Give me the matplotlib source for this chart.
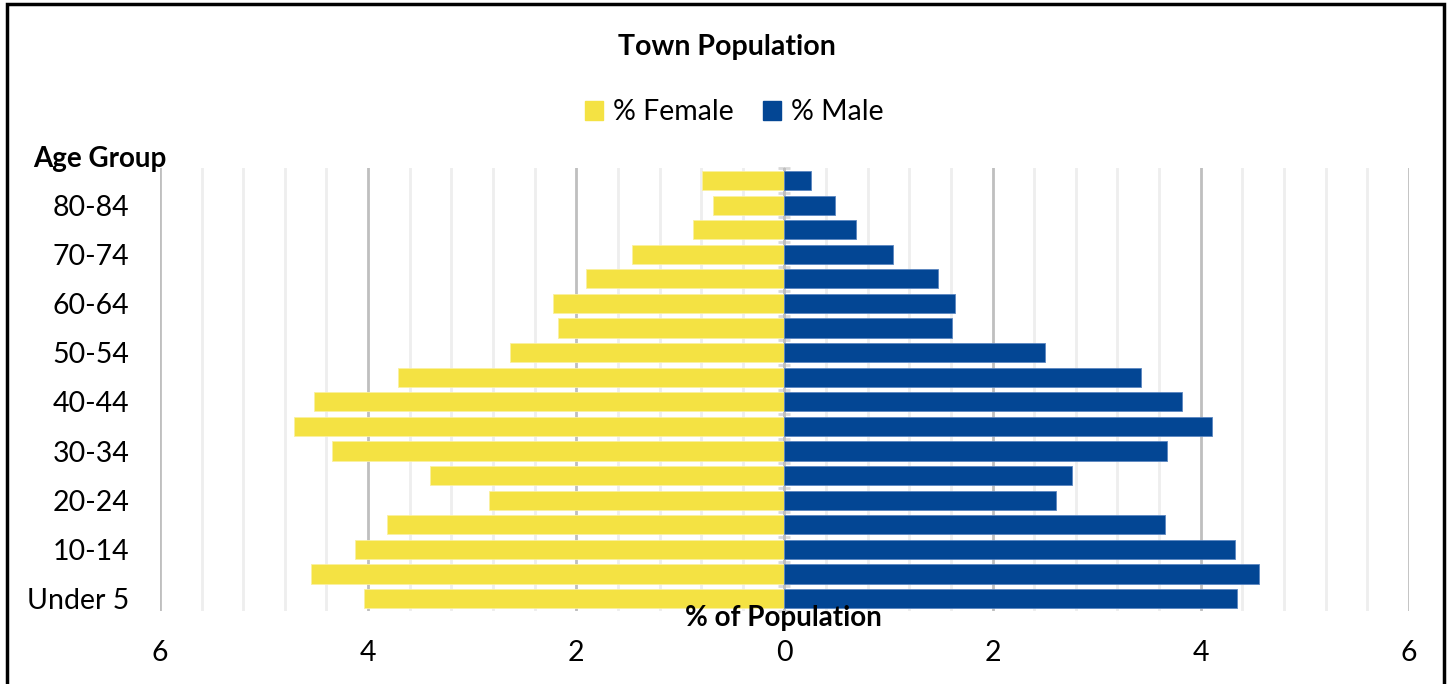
import matplotlib.pyplot as plt
from matplotlib.patches import Rectangle, Patch
import numpy as np

plt.rcParams['font.family'] = ['Lato', 'DejaVu Sans']

# age groups, bottom to top
ages = ['Under 5', '5-9', '10-14', '15-19', '20-24', '25-29', '30-34', '35-39',
        '40-44', '45-49', '50-54', '55-59', '60-64', '65-69', '70-74', '75-79',
        '80-84', '85+']
female = [4.04, 4.55, 4.13, 3.82, 2.84, 3.41, 4.35, 4.71, 4.52, 3.71, 2.64,
          2.18, 2.22, 1.91, 1.46, 0.88, 0.69, 0.79]
male = [4.35, 4.56, 4.33, 3.66, 2.61, 2.76, 3.68, 4.11, 3.82, 3.43, 2.50,
        1.61, 1.64, 1.48, 1.04, 0.69, 0.49, 0.26]

yellow = '#F4E243'
blue = '#034694'

fig = plt.figure(figsize=(14.54, 6.84), dpi=100)
ax = fig.add_axes([0.110, 0.107, 0.859, 0.647])

y = np.arange(len(ages))
ax.barh(y, [-v for v in female], height=0.78, color=yellow, edgecolor='#FAF0A0',
        linewidth=0.6, label='% Female', zorder=3)
ax.barh(y, male, height=0.78, color=blue, edgecolor='#5B86C0',
        linewidth=0.6, label='% Male', zorder=3)

ax.set_xlim(-6, 6)
ax.set_ylim(-0.5, len(ages) - 0.5)

# grid
ax.set_xticks(np.arange(-6, 6.1, 2))
ax.set_xticks(np.arange(-6, 6.01, 0.4), minor=True)
ax.grid(axis='x', which='major', color='#BFBFBF', linewidth=2, zorder=0)
ax.grid(axis='x', which='minor', color='#EEEEEE', linewidth=2, zorder=0)
ax.set_xticklabels([str(abs(int(t))) for t in np.arange(-6, 6.1, 2)])
ax.tick_params(axis='x', which='both', length=0, labelsize=20.5, pad=21)

# y labels every other group
ax.set_yticks(y[::2])
ax.set_yticklabels(ages[::2])
ax.tick_params(axis='y', length=0, labelsize=20.5, pad=22)
for s in ax.spines.values():
    s.set_visible(False)

# center axis with category tick marks
sec = ax.secondary_yaxis(0.5)
sec.set_yticks(np.arange(-0.5, len(ages), 1))
sec.set_yticklabels([])
sec.tick_params(direction='inout', length=9, width=2, color='#D9D9D9')
sec.spines['left'].set_color('#D9D9D9')
sec.spines['left'].set_linewidth(1.5)

fig.text(0.5, 0.932, 'Town Population', ha='center', va='center',
         fontsize=20.5, fontweight='bold')
fig.text(0.0226, 0.768, 'Age Group', ha='left', va='center',
         fontsize=20, fontweight='bold')
fig.text(0.539, 0.097, '% of Population', ha='center', va='center',
         fontsize=20, fontweight='bold')

handles = [Patch(color=yellow, label='% Female'), Patch(color=blue, label='% Male')]
fig.legend(handles=handles, loc='center', bbox_to_anchor=(0.505, 0.836), ncol=2,
           frameon=False, fontsize=20.5, handlelength=0.65, handleheight=0.65,
           handletextpad=0.35, columnspacing=1.0)

# outer frame
fig.patches.append(Rectangle((0.0048, -0.05), 0.9885, 1.044, transform=fig.transFigure,
                             fill=False, edgecolor='black', linewidth=2.5))

fig.savefig('out.png', dpi=100)
